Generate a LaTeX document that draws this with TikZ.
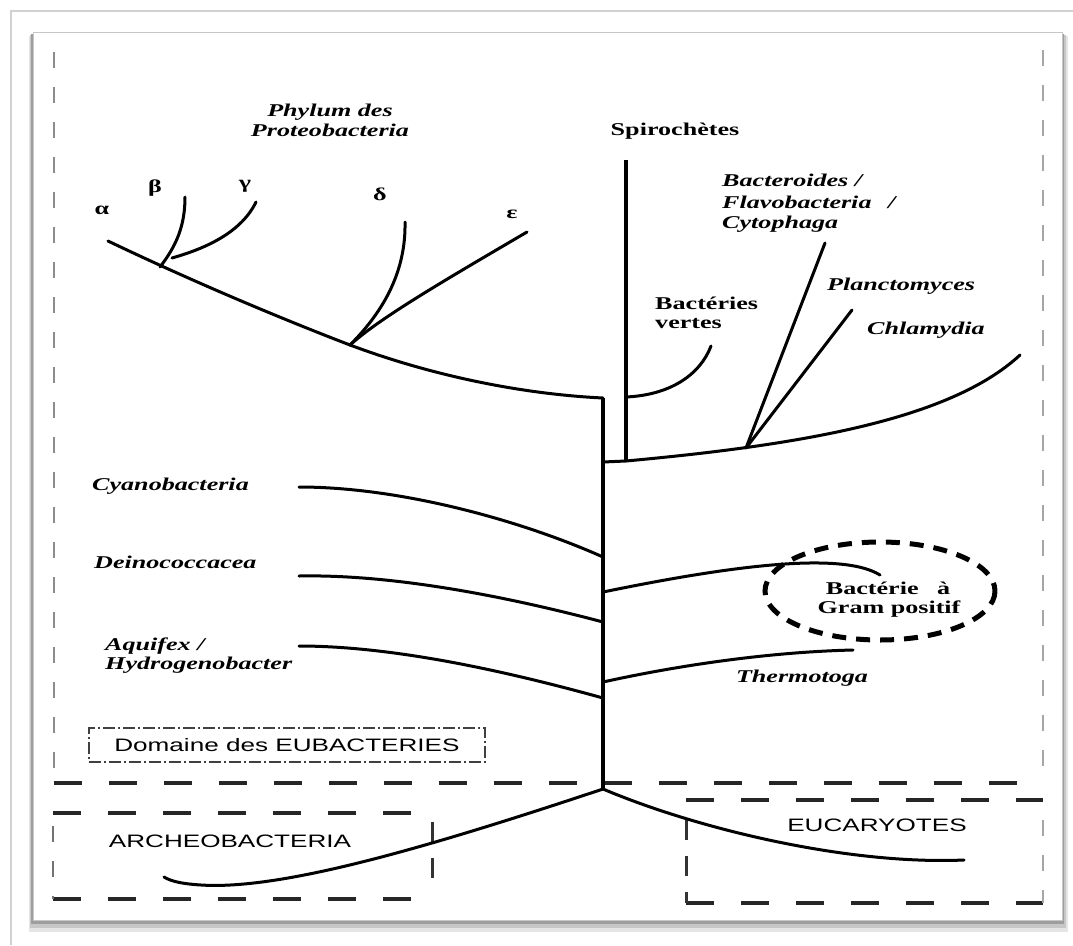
\documentclass[tikz,border=0pt]{standalone}
\usepackage{fontspec}
\setmainfont{Liberation Serif}[FakeStretch=1.45]
\setsansfont{Liberation Sans}[FakeStretch=1.45]
\begin{document}
\begin{tikzpicture}[x=1pt,y=-1pt,
  br/.style={line width=3pt, line cap=round},
  trunkline/.style={line width=4.5pt},
  heavydash/.style={line width=3.5pt, dash pattern=on 28pt off 27pt, black!85},
  darkvdash/.style={line width=3pt, dash pattern=on 20pt off 16pt, black!80},
  lightdash/.style={line width=1.5pt, dash pattern=on 16pt off 19pt, black!35},
  lbl/.style={font=\fontsize{18}{21}\selectfont\bfseries\itshape, inner sep=0pt},
  lblup/.style={font=\fontsize{18}{21}\selectfont\bfseries, inner sep=0pt},
  lblsans/.style={font=\fontsize{18}{21}\selectfont\sffamily, inner sep=0pt}]
\useasboundingbox (0,0) rectangle (1073,945);
\fill[white] (0,0) rectangle (1073,945);
% outer light frame
\draw[black!18, line width=1.5pt] (11,945) -- (11,11) -- (1073,11);
% inner frame with shadow
\fill[black!10] (29,36) rectangle (1068,932);
\fill[black!22] (30,35) rectangle (1066,928);
\fill[black!38] (31,34) rectangle (1064,924);
\filldraw[fill=white, draw=black!22, line width=1pt] (33,32) rectangle (1062,920);

% domain boxes
\draw[lightdash, black!45] (54,52) -- (54,783);
\draw[lightdash] (1043,50) -- (1043,783);
\draw[heavydash] (54,783) -- (1043,783);
% archeobacteria box
\draw[heavydash] (53,813) -- (432,813);
\draw[heavydash] (53,899) -- (432,899);
\draw[lightdash, black!55] (53,826) -- (53,899);
\draw[darkvdash] (432,822) -- (432,885);
% eucaryotes box
\draw[heavydash] (686,800) -- (1043,800);
\draw[heavydash] (686,903) -- (1043,903);
\draw[darkvdash] (686,820) -- (686,903);
\draw[lightdash] (1043,820) -- (1043,903);
% Domaine box
\node[lblsans, draw=black!75, line width=2pt, dash pattern=on 12pt off 3pt on 2pt off 3pt,
      minimum width=396pt, minimum height=34pt] (dom) at (287,745) {Domaine des EUBACTERIES};

% coordinates
\coordinate (ptop) at (108,241);
\coordinate (pbg) at (160,267);
\coordinate (pmid) at (350,345);
\coordinate (tt) at (603,398);
\coordinate (tb) at (603,789);
\coordinate (rj) at (603,462);
\coordinate (sb) at (626,461);
\coordinate (st) at (626,160);
\coordinate (bv) at (626,397);
\coordinate (fan) at (746,448);

% trunk
\draw[trunkline] (tt) -- (tb);
% proteobacteria
\draw[br] (ptop) .. controls (200,285) and (290,322) .. (pmid) .. controls (430,375) and (520,394) .. (tt);
\draw[br] (pbg) .. controls (177,245) and (185,225) .. (185,197);
\draw[br] (172,258) .. controls (200,250) and (240,235) .. (256,202);
\draw[br] (pmid) .. controls (385,310) and (406,270) .. (405,222);
\draw[br] (pmid) .. controls (380,318) and (440,283) .. (527,232);
% spirochetes and right
\draw[trunkline] (st) -- (sb);
\draw[br] (bv) .. controls (670,395) and (700,375) .. (711,346);
\draw[br] (rj) -- (sb) .. controls (800,445) and (950,420) .. (1020,355);
\draw[br] (fan) -- (825,243);
\draw[br] (fan) -- (852,310);
% left branches
\draw[br] (299,487) .. controls (400,487) and (520,520) .. (603,557);
\draw[br] (299,576) .. controls (400,574) and (520,600) .. (603,622);
\draw[br] (299,646) .. controls (400,646) and (520,675) .. (603,698);
% right lower branches
\draw[br] (603,592) .. controls (720,568) and (840,550) .. (880,575);
\draw[br] (603,682) .. controls (680,665) and (770,652) .. (853,650);
% basal
\draw[br] (tb) .. controls (420,850) and (280,890) .. (201,885) .. controls (185,884) and (172,882) .. (164,877);
\draw[br] (tb) .. controls (700,830) and (850,865) .. (964,860);

% Gram positive ellipse
\draw[line width=5pt, dash pattern=on 14pt off 10pt] (880,591) ellipse [x radius=115, y radius=49];

% labels
\node[lbl, anchor=base] (phy1) at (330,116) {Phylum des};
\node[lbl, anchor=base] (phy2) at (330,136) {Proteobacteria};
\node[lblup, anchor=base] (alpha) at (102,214) {α};
\node[lblup, anchor=base] (beta) at (155,192) {β};
\node[lblup, anchor=base] (gamma) at (245,188) {γ};
\node[lblup, anchor=base] (delta) at (380,200) {δ};
\node[lblup, anchor=base] (eps) at (512,218) {ε};
\node[lblup, anchor=base] (spiro) at (675,135) {Spirochètes};
\node[lbl, anchor=base west] (bac1) at (722,186) {Bacteroides /};
\node[lbl, anchor=base west] (bac2) at (722,208) {Flavobacteria\hspace{10pt} /};
\node[lbl, anchor=base west] (bac3) at (722,228) {Cytophaga};
\node[lbl, anchor=base west] (planc) at (827,290) {Planctomyces};
\node[lbl, anchor=base west] (chlam) at (867,334) {Chlamydia};
\node[lblup, anchor=base west] (bv1) at (655,309) {Bactéries};
\node[lblup, anchor=base west] (bv2) at (655,328) {vertes};
\node[lbl, anchor=base west] (cyano) at (92,490) {Cyanobacteria};
\node[lbl, anchor=base west] (deino) at (94,568) {Deinococcacea};
\node[lbl, anchor=base west] (aq1) at (105,650) {Aquifex /};
\node[lbl, anchor=base west] (aq2) at (105,669) {Hydrogenobacter};
\node[lblup, anchor=base] (gp1) at (888,594) {Bactérie\hspace{12pt} à};
\node[lblup, anchor=base] (gp2) at (889,613) {Gram positif};
\node[lbl, anchor=base] (thermo) at (802,682) {Thermotoga};
\node[lblsans, anchor=base] (arch) at (230,847) {ARCHEOBACTERIA};
\node[lblsans, anchor=base] (euc) at (877,831) {EUCARYOTES};
\end{tikzpicture}
\end{document}
